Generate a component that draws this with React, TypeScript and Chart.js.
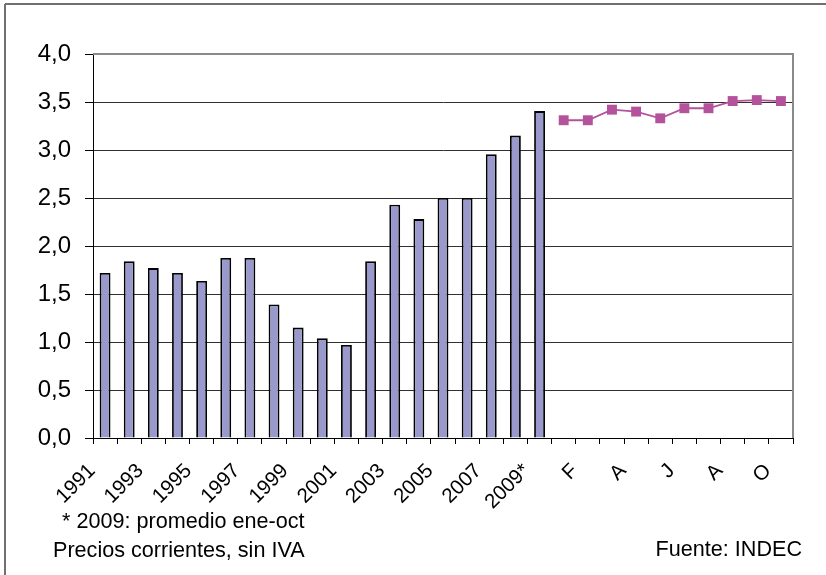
import React, { useEffect, useRef } from 'react';
import { Chart, registerables } from 'chart.js';

Chart.register(...registerables);

const yearLabels = ['1991', '1992', '1993', '1994', '1995', '1996', '1997', '1998', '1999', '2000', '2001', '2002', '2003', '2004', '2005', '2006', '2007', '2008', '2009*'];
const monthLabels = ['E', 'F', 'M', 'A', 'M', 'J', 'J', 'A', 'S', 'O'];
const annualValues = [1.72, 1.84, 1.77, 1.72, 1.635, 1.875, 1.875, 1.39, 1.15, 1.04, 0.97, 1.84, 2.43, 2.28, 2.5, 2.5, 2.955, 3.15, 3.405];
const monthlyValues = [3.31, 3.31, 3.42, 3.4, 3.33, 3.435, 3.435, 3.51, 3.52, 3.51];
const yMin = 0;
const yMax = 4;
const yStep = 0.5;
const footnote = '* 2009: promedio ene-oct';
const noteLeft = 'Precios corrientes, sin IVA';
const noteRight = 'Fuente: INDEC';

const FONT = "'Liberation Sans', Arial, sans-serif";
const BAR_COLOR = '#9999cc';
const LINE_COLOR = '#b4529b';

export default function App() {
  const ref = useRef<HTMLCanvasElement | null>(null);

  useEffect(() => {
    if (!ref.current) return;
    const categories = [...yearLabels, ...monthLabels];
    const barData = [...annualValues, ...monthLabels.map(() => null)];
    const lineData = [...yearLabels.map(() => null), ...monthlyValues];

    const decor = {
      id: 'decor',
      beforeDraw(chart: any) {
        const { ctx } = chart;
        ctx.save();
        ctx.fillStyle = '#ffffff';
        ctx.fillRect(0, 0, chart.width, chart.height);
        ctx.strokeStyle = '#707070';
        ctx.lineWidth = 2;
        ctx.beginPath();
        ctx.moveTo(5, 4);
        ctx.lineTo(chart.width + 2, 4);
        ctx.moveTo(5, 4);
        ctx.lineTo(5, chart.height + 2);
        ctx.stroke();
        ctx.restore();
      },
      beforeDatasetsDraw(chart: any) {
        const { ctx, chartArea } = chart;
        ctx.save();
        ctx.strokeStyle = '#8a8a8a';
        ctx.lineWidth = 2;
        ctx.beginPath();
        ctx.moveTo(chartArea.left, chartArea.top);
        ctx.lineTo(chartArea.right, chartArea.top);
        ctx.lineTo(chartArea.right, chartArea.bottom);
        ctx.stroke();
        ctx.restore();
      },
      afterDraw(chart: any) {
        const { ctx } = chart;
        ctx.save();
        ctx.fillStyle = '#000';
        ctx.font = `21.6px ${FONT}`;
        ctx.textBaseline = 'middle';
        ctx.textAlign = 'left';
        ctx.fillText(footnote, 62, 522);
        ctx.fillText(noteLeft, 53, 551);
        ctx.textAlign = 'right';
        ctx.fillText(noteRight, 802, 550);
        ctx.restore();
      },
    };

    const chart = new Chart(ref.current, {
      type: 'bar',
      data: {
        labels: categories,
        datasets: [
          {
            type: 'bar',
            data: barData,
            backgroundColor: BAR_COLOR,
            borderColor: '#000000',
            borderWidth: 1.8,
            borderSkipped: 'bottom',
            barPercentage: 0.45,
            categoryPercentage: 1,
            order: 2,
          },
          {
            type: 'line',
            data: lineData,
            borderColor: LINE_COLOR,
            borderWidth: 1.8,
            pointStyle: 'rect',
            pointRadius: 7,
            pointBackgroundColor: LINE_COLOR,
            pointBorderWidth: 0,
            spanGaps: false,
            order: 1,
          } as any,
        ],
      },
      options: {
        animation: false,
        responsive: true,
        maintainAspectRatio: false,
        layout: { padding: { left: 0, right: 33, top: 54, bottom: 0 } },
        plugins: { legend: { display: false }, tooltip: { enabled: false } },
        scales: {
          x: {
            offset: true,
            grid: { display: true, drawOnChartArea: false, offset: true, tickLength: 6, color: '#000', lineWidth: 1 },
            border: { display: true, color: '#000', width: 1 },
            ticks: {
              autoSkip: false,
              minRotation: 45,
              maxRotation: 45,
              padding: 15,
              labelOffset: -13,
              color: '#000',
              font: { family: FONT, size: 20.5 },
              callback: (_v: any, i: number) => (i % 2 === 0 ? categories[i] : ''),
            },
            afterFit: (s: any) => { s.height = 137; },
          },
          y: {
            min: yMin,
            max: yMax,
            grid: {
              color: (c: any) => (c.tick && c.tick.value === yMax ? '#8a8a8a' : '#303030'),
              tickColor: '#000',
              tickLength: 8,
              lineWidth: 1,
            },
            border: { display: true, color: '#000', width: 1 },
            ticks: {
              stepSize: yStep,
              padding: 14,
              color: '#000',
              font: { family: FONT, size: 24 },
              callback: (v: any) => Number(v).toFixed(1).replace('.', ','),
            },
            afterFit: (s: any) => { s.width = 93; },
          },
        },
      },
      plugins: [decor],
    });
    return () => chart.destroy();
  }, []);

  return (
    <div style={{ position: 'absolute', left: 0, top: 0, width: 826, height: 575, background: '#fff' }}>
      <canvas ref={ref} />
    </div>
  );
}
